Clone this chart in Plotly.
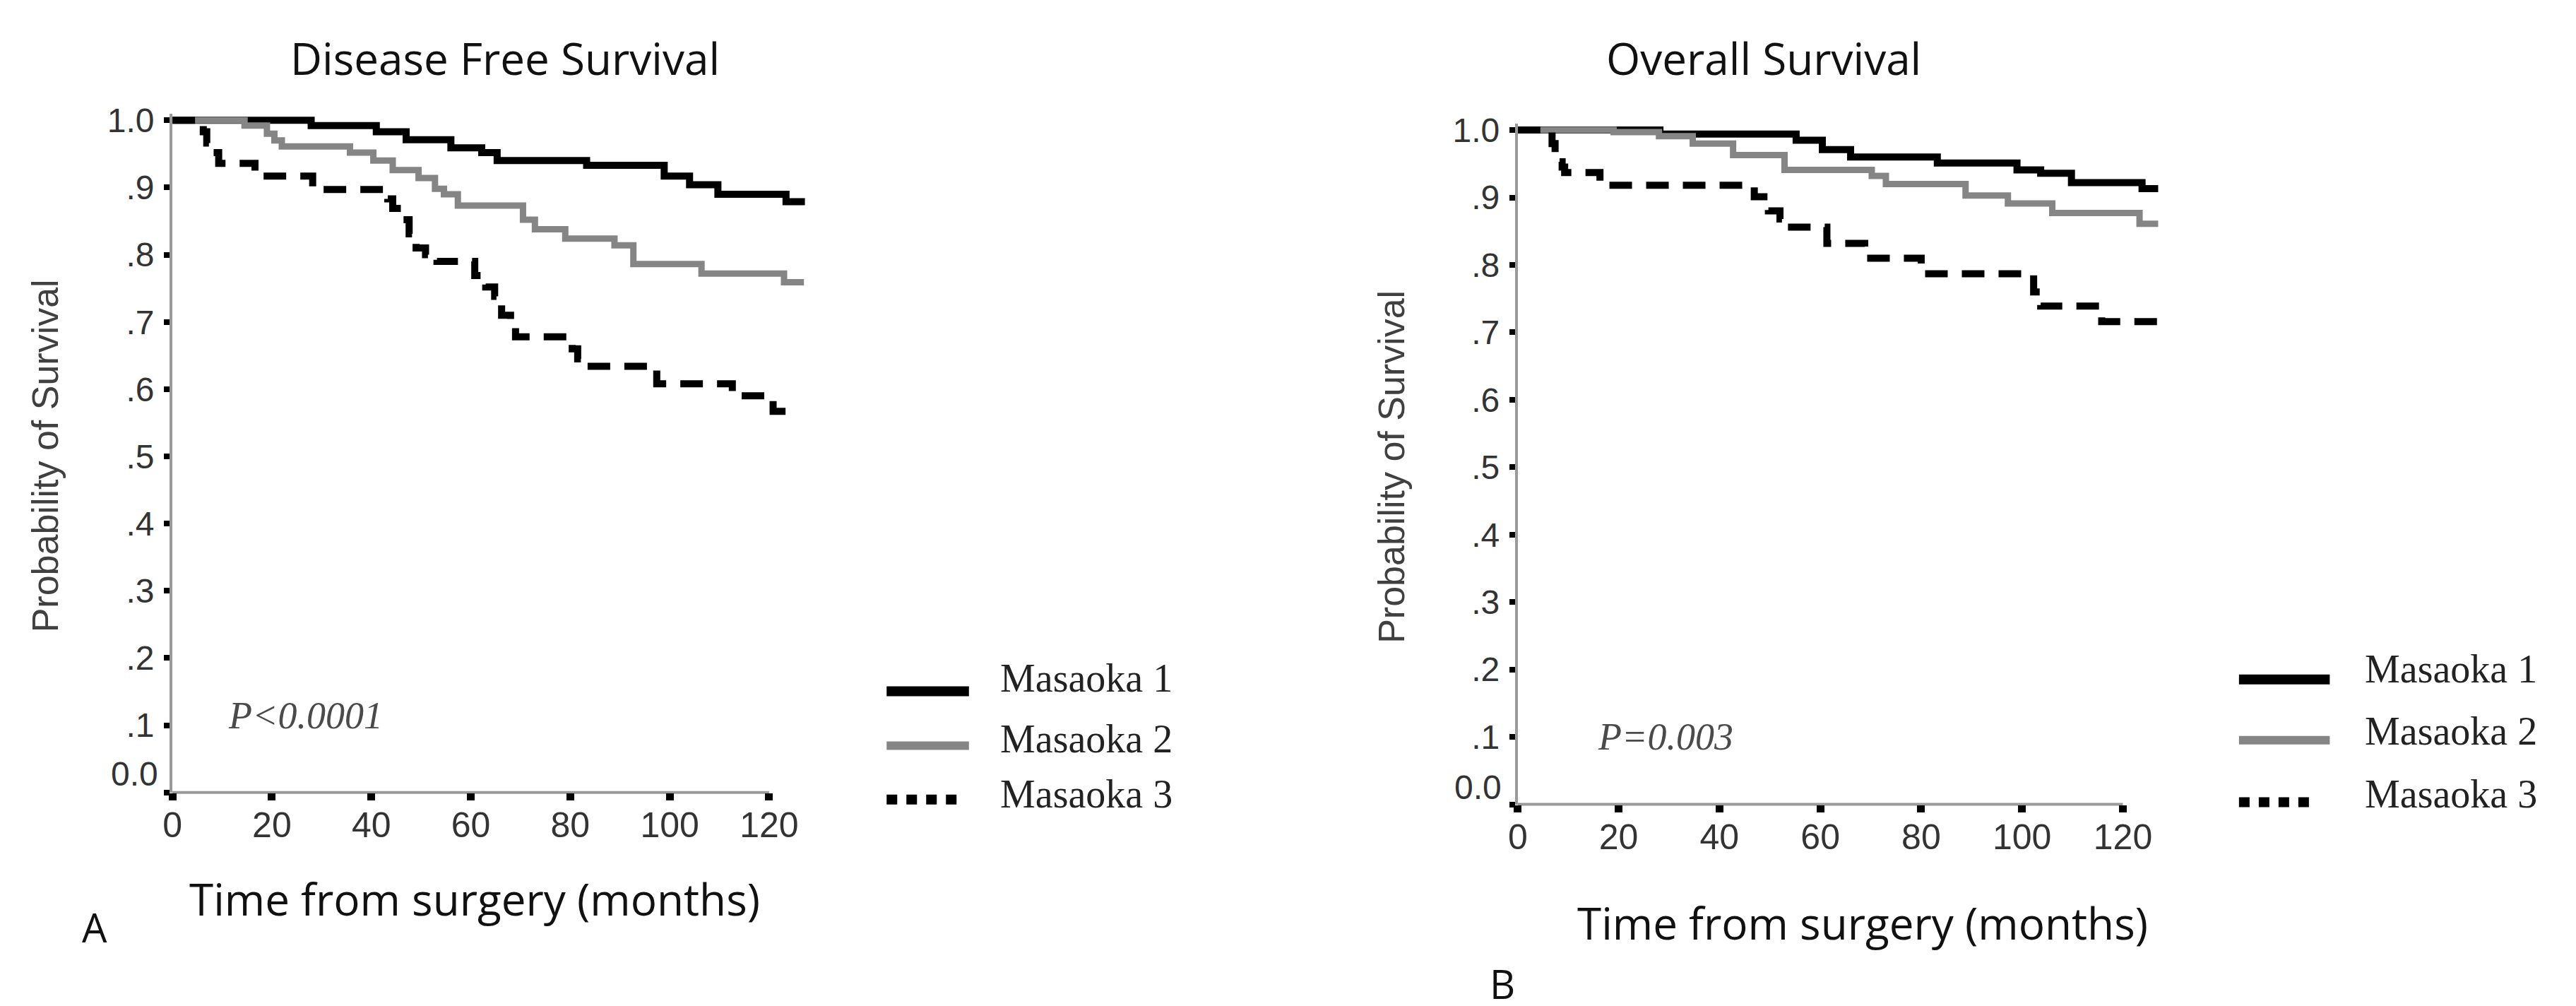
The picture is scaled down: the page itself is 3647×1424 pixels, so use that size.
import plotly.graph_objects as go

W, H = 3647, 1424

# ---------------- data ----------------
# Panel A: Disease Free Survival
dfs_m1_t = [0, 27.9, 41.0, 47.0, 56.0, 62.2, 65.3, 83.3, 98.9, 104.0, 109.7, 123.4, 127.2]
dfs_m1_s = [1.0, 0.992, 0.983, 0.971, 0.959, 0.952, 0.940, 0.933, 0.917, 0.904, 0.890, 0.879, 0.879]

dfs_m2_t = [0, 14.5, 19.0, 20.5, 22.0, 35.7, 40.4, 44.3, 49.5, 52.8, 54.6, 57.4, 70.5, 72.9, 79.0,
            88.9, 92.7, 106.4, 123.0, 127.0]
dfs_m2_s = [1.0, 0.992, 0.980, 0.970, 0.961, 0.952, 0.940, 0.926, 0.914, 0.898, 0.890, 0.873, 0.852,
            0.838, 0.824, 0.814, 0.786, 0.772, 0.759, 0.759]

dfs_m3_t = [0, 6.2, 6.9, 7.8, 9.3, 16.6, 28.2, 43.3, 44.3, 46.1, 47.6, 49.0, 50.9, 53.2, 60.8,
            63.0, 64.8, 66.2, 68.0, 69.0, 80.4, 81.5, 82.3, 97.4, 112.6, 120.8, 126.0]
dfs_m3_s = [1.0, 0.983, 0.966, 0.952, 0.936, 0.917, 0.897, 0.883, 0.869, 0.852, 0.831, 0.810,
            0.800, 0.790, 0.769, 0.752, 0.738, 0.710, 0.693, 0.678, 0.660, 0.645, 0.634, 0.608,
            0.590, 0.567, 0.567]

# Panel B: Overall Survival
os_m1_t = [0, 28.2, 55.2, 60.4, 66.0, 83.2, 99.0, 103.7, 109.8, 123.8, 127.0]
os_m1_s = [1.0, 0.994, 0.985, 0.971, 0.960, 0.951, 0.941, 0.936, 0.922, 0.913, 0.913]

os_m2_t = [0, 19.0, 28.0, 34.7, 42.7, 52.9, 70.2, 73.0, 88.8, 97.2, 106.0, 123.3, 127.0]
os_m2_s = [1.0, 0.997, 0.991, 0.980, 0.963, 0.941, 0.932, 0.920, 0.903, 0.891, 0.877, 0.861, 0.861]

os_m3_t = [0, 6.8, 7.4, 7.9, 8.8, 9.3, 16.3, 46.9, 49.7, 52.0, 53.4, 61.3, 68.8, 80.0, 102.3,
           103.7, 115.8, 127.3]
os_m3_s = [1.0, 0.980, 0.963, 0.953, 0.945, 0.937, 0.918, 0.901, 0.880, 0.868, 0.856, 0.832,
           0.810, 0.787, 0.760, 0.739, 0.716, 0.716]

series_names = ["Masaoka 1", "Masaoka 2", "Masaoka 3"]
panel_titles = ["Disease Free Survival", "Overall Survival"]
p_values = ["P&lt;0.0001", "P=0.003"]
panel_letters = ["A", "B"]
x_title = "Time from surgery (months)"
y_title = "Probability of Survival"

x_ticks = [0, 20, 40, 60, 80, 100, 120]
y_ticks = [0.0, 0.1, 0.2, 0.3, 0.4, 0.5, 0.6, 0.7, 0.8, 0.9, 1.0]
y_tick_labels = ["0.0", ".1", ".2", ".3", ".4", ".5", ".6", ".7", ".8", ".9", "1.0"]
x_max = 130
y_max = 1.01

# ---------------- styles ----------------
BLACK = "#000000"
GRAY = "#858585"
AXIS_GRAY = "#9a9a9a"
TICK_TXT = "#333333"
SANS = "Open Sans"
ARIAL = "Liberation Sans, Arial"
SERIF = "Liberation Serif, Times New Roman"
styles = [
    dict(color=BLACK, width=10, dash="solid"),
    dict(color=GRAY, width=9, dash="solid"),
    dict(color=BLACK, width=10, dash="32px,20px"),
]


def px_x(x):
    return x / W


def px_y(y):
    return 1 - y / H


fig = go.Figure()

panels = [
    dict(curves=[(dfs_m1_t, dfs_m1_s), (dfs_m2_t, dfs_m2_s), (dfs_m3_t, dfs_m3_s)],
         x0=223, x120=1071, y0=1110, y1=147,
         title_xy=(696, 58), xt_xy=(653, 1262), yt_xy=(42, 628), p_xy=(300, 1000),
         letter_xy=(112, 1303), zero_xy=(205, 1083),
         leg_x=(1238, 1355), leg_y=[965, 1043, 1120], leg_ty=[946, 1033, 1112], leg_tx=1397),
    dict(curves=[(os_m1_t, os_m1_s), (os_m2_t, os_m2_s), (os_m3_t, os_m3_s)],
         x0=2135, x120=2995, y0=1127, y1=161,
         title_xy=(2485, 58), xt_xy=(2625, 1296), yt_xy=(1956, 643), p_xy=(2247, 1030),
         letter_xy=(2113, 1384), zero_xy=(2114, 1103),
         leg_x=(3160, 3289), leg_y=[948, 1035, 1124], leg_ty=[933, 1022, 1112], leg_tx=3337),
]

annotations = []
shapes = []
layout_axes = {}

for i, p in enumerate(panels):
    n = "" if i == 0 else str(i + 1)
    xa, ya = "x" + n, "y" + n
    ppm = (p["x120"] - p["x0"]) / x_ticks[-1]
    ppv = (p["y0"] - p["y1"]) / 1.0
    dom_x = [px_x(p["x0"]), px_x(p["x0"] + ppm * x_max)]
    dom_y = [px_y(p["y0"]), px_y(p["y0"] - ppv * y_max)]

    for (t, s), st, name in zip(p["curves"], styles, series_names):
        fig.add_trace(go.Scatter(
            x=t, y=s, mode="lines", name=name, showlegend=False,
            line=dict(shape="hv", color=st["color"], width=st["width"], dash=st["dash"]),
            xaxis=xa, yaxis=ya, hoverinfo="skip"))

    layout_axes["xaxis" + n] = dict(
        domain=dom_x, range=[0, x_max], anchor=ya,
        tickvals=x_ticks, ticktext=[str(v) for v in x_ticks],
        ticks="outside", ticklen=10, tickwidth=11, tickcolor=BLACK,
        ticklabelstandoff=-8,
        showline=False, showgrid=False, zeroline=False,
        tickfont=dict(family=ARIAL, size=50, color=TICK_TXT))
    layout_axes["yaxis" + n] = dict(
        domain=dom_y, range=[0, y_max], anchor=xa,
        tickvals=y_ticks, ticktext=["" if v == 0 else lab for v, lab in zip(y_ticks, y_tick_labels)],
        ticks="outside", ticklen=8, tickwidth=8, tickcolor=BLACK,
        ticklabelstandoff=4,
        showline=True, linecolor=AXIS_GRAY, linewidth=4,
        showgrid=False, zeroline=False,
        tickfont=dict(family=ARIAL, size=48, color=TICK_TXT))

    # x-axis line only spans the labelled ticks (0..120)
    shapes.append(dict(type="line", xref=xa + " domain", yref=ya + " domain",
                       x0=0, x1=x_ticks[-1] / x_max, y0=0, y1=0,
                       line=dict(color=AXIS_GRAY, width=4), layer="below"))

    # zero label sits a little above the axis as in the original
    annotations.append(dict(text=y_tick_labels[0], x=px_x(p["zero_xy"][0]), y=px_y(p["zero_xy"][1]),
                            xref="paper", yref="paper", xanchor="right", yanchor="middle",
                            showarrow=False, font=dict(family=ARIAL, size=48, color=TICK_TXT)))

    annotations.append(dict(text=panel_titles[i], x=px_x(p["title_xy"][0]), y=px_y(p["title_xy"][1]),
                            xref="paper", yref="paper", xanchor="center", yanchor="middle",
                            showarrow=False, font=dict(family=SANS, size=62, color="#111111")))
    annotations.append(dict(text=x_title, x=px_x(p["xt_xy"][0]), y=px_y(p["xt_xy"][1]),
                            xref="paper", yref="paper", xanchor="center", yanchor="middle",
                            showarrow=False, font=dict(family=SANS, size=62, color="#111111")))
    annotations.append(dict(text=y_title, x=px_x(p["yt_xy"][0]), y=px_y(p["yt_xy"][1]),
                            xref="paper", yref="paper", xanchor="center", yanchor="middle",
                            textangle=-90, showarrow=False,
                            font=dict(family=ARIAL, size=52, color="#404040")))
    annotations.append(dict(text="<i>" + p_values[i] + "</i>", x=px_x(p["p_xy"][0]), y=px_y(p["p_xy"][1]),
                            xref="paper", yref="paper", xanchor="left", yanchor="middle",
                            showarrow=False, font=dict(family=SERIF, size=54, color="#4a4a4a")))
    annotations.append(dict(text=panel_letters[i], x=px_x(p["letter_xy"][0]), y=px_y(p["letter_xy"][1]),
                            xref="paper", yref="paper", xanchor="center", yanchor="middle",
                            showarrow=False, font=dict(family=SANS, size=56, color="#111111")))

    # legend drawn by hand (long samples, dotted sample for Masaoka 3)
    leg_styles = [dict(color=BLACK, width=14, dash="solid"),
                  dict(color=GRAY, width=12, dash="solid"),
                  dict(color=BLACK, width=14, dash="15px,13px")]
    for k, name in enumerate(series_names):
        lx0, lx1 = p["leg_x"]
        if k == 2:
            lx1 = lx0 + 4 * 28
        shapes.append(dict(type="line", xref="paper", yref="paper",
                           x0=px_x(lx0), x1=px_x(lx1), y0=px_y(p["leg_y"][k]), y1=px_y(p["leg_y"][k]),
                           line=leg_styles[k]))
        annotations.append(dict(text=name, x=px_x(p["leg_tx"]), y=px_y(p["leg_ty"][k]),
                                xref="paper", yref="paper", xanchor="left", yanchor="middle",
                                showarrow=False, font=dict(family=SERIF, size=56, color="#222222")))

fig.update_layout(
    width=W, height=H,
    margin=dict(l=0, r=0, t=0, b=0, pad=0),
    paper_bgcolor="white", plot_bgcolor="white",
    showlegend=False,
    annotations=annotations, shapes=shapes,
    **layout_axes)

fig.write_html("out.html")
